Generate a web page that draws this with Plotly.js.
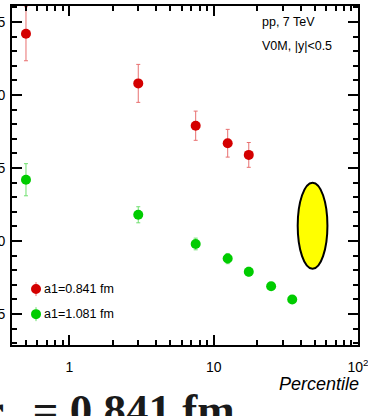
<!DOCTYPE html>
<html>
<head>
<meta charset="utf-8">
<script src="https://cdn.plot.ly/plotly-3.0.1.min.js"></script>
<style>
  html, body { margin: 0; padding: 0; overflow: hidden; background: #fff; }
  #frame { position: relative; width: 368px; height: 416px; overflow: hidden; }
  #chart { position: absolute; left: -40px; top: 0; width: 460px; height: 460px; }
</style>
</head>
<body>
<div id="frame"><div id="chart"></div></div>
<script>
// Multiplicity classes (percentile) and the two extracted series
const redPercentile   = [0.5, 3, 7.5, 12.5, 17.5];
const redValue        = [2.42, 2.08, 1.79, 1.67, 1.59];
const redError        = [0.185, 0.13, 0.10, 0.095, 0.085];

const greenPercentile = [0.5, 3, 7.5, 12.5, 17.5, 25, 35];
const greenValue      = [1.42, 1.18, 0.98, 0.88, 0.79, 0.69, 0.60];
const greenError      = [0.11, 0.055, 0.04, 0.035, 0.03, 0.02, 0.02];

const seriesNames = ['a1=0.841 fm', 'a1=1.081 fm'];

// Reference band drawn as an ellipse (percentile span, value span)
const bandPercentile = [38.2, 61.4];
const bandValue      = [0.81, 1.40];

// Axis ticks
const xMajorTicks = [1, 10, 100];
const xMajorText  = ['1', '10', '10<sup>2</sup>'];
const xMinorTicks = [0.5, 0.6, 0.7, 0.8, 0.9, 2, 3, 4, 5, 6, 7, 8, 9, 20, 30, 40, 50, 60, 70, 80, 90];

const xRange = [Math.log10(0.4), 2.0];
const yRange = [0.288, 2.61];

const redColor = '#d40000', redBar = '#e87070';
const greenColor = '#00cc00', greenBar = '#70e070';

const traces = [
  {
    x: redPercentile, y: redValue, type: 'scatter', mode: 'markers', name: seriesNames[0],
    marker: { color: redColor, size: 10 },
    error_y: { type: 'data', array: redError, visible: true, color: redBar, thickness: 1, width: 2 }
  },
  {
    x: greenPercentile, y: greenValue, type: 'scatter', mode: 'markers', name: seriesNames[1],
    marker: { color: greenColor, size: 10 },
    error_y: { type: 'data', array: greenError, visible: true, color: greenBar, thickness: 1, width: 2 }
  },
  // empty trace that brings up the top/right frame axes
  { x: [], y: [], type: 'scatter', mode: 'markers', xaxis: 'x2', yaxis: 'y2', hoverinfo: 'skip' }
];

const sans = 'Liberation Sans, Arial, sans-serif';

// Legend drawn by hand so the symbol sits right next to its label
const legendX = 0.0694;
const legendY = [0.165, 0.091];
const legendColors = [[redColor, redBar], [greenColor, greenBar]];

const shapes = [
  {
    type: 'circle', xref: 'x', yref: 'y',
    x0: bandPercentile[0], x1: bandPercentile[1], y0: bandValue[0], y1: bandValue[1],
    fillcolor: '#ffff00', line: { color: '#000', width: 2 }, layer: 'above'
  }
];
const annotations = [];
legendY.forEach((yy, i) => {
  shapes.push({
    type: 'line', xref: 'paper', yref: 'paper', xsizemode: 'pixel', ysizemode: 'pixel',
    xanchor: legendX, yanchor: yy, x0: 0, x1: 0, y0: -7, y1: 7,
    line: { color: legendColors[i][1], width: 1 }
  });
  shapes.push({
    type: 'circle', xref: 'paper', yref: 'paper', xsizemode: 'pixel', ysizemode: 'pixel',
    xanchor: legendX, yanchor: yy, x0: -5, x1: 5, y0: -5, y1: 5,
    fillcolor: legendColors[i][0], line: { width: 0 }
  });
  annotations.push({
    xref: 'paper', yref: 'paper', x: legendX, y: yy, xshift: 6,
    xanchor: 'left', yanchor: 'middle', showarrow: false,
    text: seriesNames[i], font: { family: sans, size: 12.5, color: '#000' }
  });
});

annotations.push(
  { xref: 'paper', yref: 'paper', x: 0.717, y: 0.952, xanchor: 'left', yanchor: 'middle',
    showarrow: false, text: 'pp, 7 TeV', font: { family: sans, size: 12.5, color: '#000' } },
  { xref: 'paper', yref: 'paper', x: 0.717, y: 0.882, xanchor: 'left', yanchor: 'middle',
    showarrow: false, text: 'V0M, |y|<0.5', font: { family: sans, size: 12.5, color: '#000' } },
  { xref: 'paper', yref: 'paper', x: 1.008, y: -0.115, xanchor: 'right', yanchor: 'middle',
    showarrow: false, text: '<i>Percentile</i>', font: { family: sans, size: 18, color: '#000' } },
  { xref: 'paper', yref: 'paper', x: -0.088, y: -0.2, xanchor: 'left', yanchor: 'middle',
    showarrow: false, text: '<b>r<sub>p</sub> = 0.841 fm</b>',
    font: { family: 'Liberation Serif, Times New Roman, serif', size: 45, color: '#1a1a1a' } }
);

const tickStyle = {
  showline: true, linecolor: '#000', linewidth: 2,
  ticks: 'inside', ticklen: 10, tickwidth: 2, tickcolor: '#000',
  showgrid: false, zeroline: false,
  tickfont: { family: sans, size: 14, color: '#000' }
};
const xTickSet = {
  type: 'log', range: xRange,
  tickmode: 'array', tickvals: xMajorTicks, ticktext: xMajorText,
  minor: { tickmode: 'array', tickvals: xMinorTicks, ticks: 'inside', ticklen: 5, tickwidth: 2, tickcolor: '#000' }
};
const yTickSet = {
  range: yRange, dtick: 0.5, tick0: 0, tickformat: '.1f',
  minor: { dtick: 0.1, ticks: 'inside', ticklen: 5, tickwidth: 2, tickcolor: '#000' }
};

const layout = {
  width: 460, height: 460,
  margin: { l: 52, r: 62, t: 6, b: 115 },
  paper_bgcolor: '#fff', plot_bgcolor: '#fff',
  showlegend: false,
  xaxis: Object.assign({}, tickStyle, xTickSet, { ticklabelstandoff: 8 }),
  yaxis: Object.assign({}, tickStyle, yTickSet, { ticklabelstandoff: 2 }),
  xaxis2: Object.assign({}, tickStyle, xTickSet, { overlaying: 'x', side: 'top', anchor: 'y2', showticklabels: false }),
  yaxis2: Object.assign({}, tickStyle, yTickSet, { overlaying: 'y', side: 'right', anchor: 'x2', showticklabels: false }),
  shapes: shapes,
  annotations: annotations
};

Plotly.newPlot('chart', traces, layout, { displayModeBar: false, staticPlot: true });
</script>
</body>
</html>
